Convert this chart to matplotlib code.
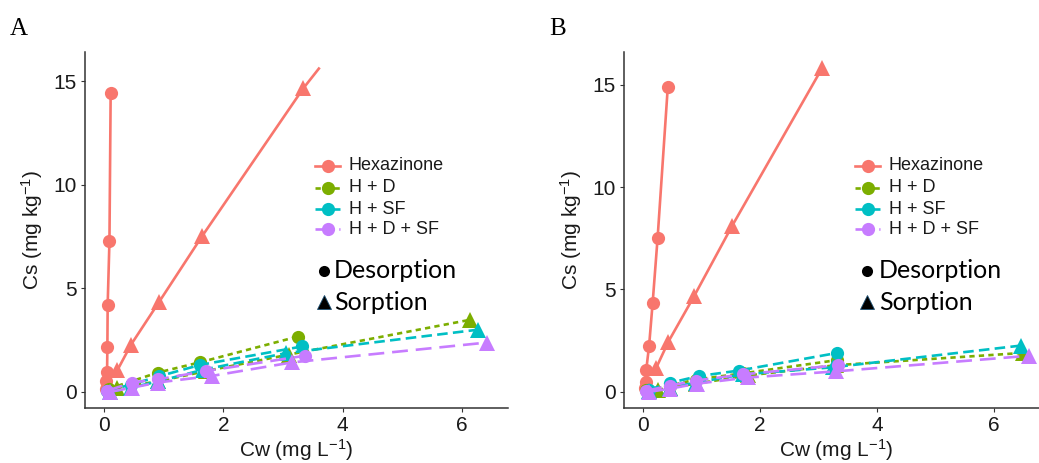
import matplotlib
matplotlib.use("Agg")
import matplotlib.pyplot as plt
from matplotlib.lines import Line2D

plt.rcParams['font.family'] = ['Liberation Sans', 'DejaVu Sans']
plt.rcParams['mathtext.default'] = 'regular'

# -------------------------
# Data
# -------------------------
series_names = ["Hexazinone", "H + D", "H + SF", "H + D + SF"]
series_colors = ["#F8766D", "#7CAE00", "#00BFC4", "#C77CFF"]

# Panel A
a_hex_des_x = [0.03, 0.04, 0.05, 0.055, 0.06, 0.09, 0.11]
a_hex_des_y = [0.15, 0.5, 0.95, 2.15, 4.2, 7.3, 14.4]
a_hex_sor_x = [0.22, 0.45, 0.92, 1.64, 3.34, 3.6]
a_hex_sor_y = [1.03, 2.27, 4.33, 7.5, 14.65, 15.6]
a_hd_des_x = [0.08, 0.9, 1.6, 3.25]
a_hd_des_y = [0.15, 0.93, 1.42, 2.67]
a_hd_sor_x = [0.22, 0.9, 1.7, 3.1, 6.14]
a_hd_sor_y = [0.2, 0.5, 1.0, 1.8, 3.48]
a_hsf_des_x = [0.05, 0.45, 0.92, 1.61, 3.32]
a_hsf_des_y = [0.05, 0.35, 0.75, 1.3, 2.19]
a_hsf_sor_x = [0.1, 0.45, 0.9, 1.65, 3.05, 6.27]
a_hsf_sor_y = [0.0, 0.2, 0.5, 1.06, 1.87, 3.0]
a_hdsf_des_x = [0.05, 0.47, 0.9, 1.7, 3.36]
a_hdsf_des_y = [0.05, 0.45, 0.6, 1.0, 1.74]
a_hdsf_sor_x = [0.1, 0.47, 0.9, 1.81, 3.15, 6.42]
a_hdsf_sor_y = [0.0, 0.2, 0.45, 0.77, 1.42, 2.38]

# Panel B
b_hex_des_x = [0.03, 0.04, 0.05, 0.10, 0.16, 0.245, 0.42]
b_hex_des_y = [0.2, 0.5, 1.05, 2.26, 4.33, 7.5, 14.9]
b_hex_sor_x = [0.22, 0.43, 0.87, 1.52, 3.06]
b_hex_sor_y = [1.16, 2.45, 4.67, 8.1, 15.8]
b_hd_des_x = [0.05, 0.45, 0.9, 1.7, 3.32]
b_hd_des_y = [0.1, 0.3, 0.6, 0.9, 1.55]
b_hd_sor_x = [0.25, 0.45, 0.9, 1.8, 3.3, 6.5]
b_hd_sor_y = [0.1, 0.2, 0.4, 0.8, 1.3, 1.9]
b_hsf_des_x = [0.1, 0.46, 0.95, 1.64, 3.32]
b_hsf_des_y = [0.1, 0.44, 0.77, 1.04, 1.9]
b_hsf_sor_x = [0.1, 0.45, 0.9, 1.7, 3.25, 6.47]
b_hsf_sor_y = [0.05, 0.2, 0.45, 0.85, 1.2, 2.26]
b_hdsf_des_x = [0.05, 0.45, 0.9, 1.7, 3.33]
b_hdsf_des_y = [0.05, 0.3, 0.55, 0.85, 1.3]
b_hdsf_sor_x = [0.1, 0.45, 0.92, 1.8, 3.3, 6.6]
b_hdsf_sor_y = [0.0, 0.15, 0.4, 0.7, 1.0, 1.76]

x_ticks = [0, 2, 4, 6]
y_ticks = [0, 5, 10, 15]

# -------------------------
# Styles
# -------------------------
dashes = ['-', (0, (2, 1.6)), (0, (4, 2)), (0, (6, 3))]
LW = 1.9
CIRCLE_MS = 9.5
TRI_MS = 11

W, H = 1039, 463
fig = plt.figure(figsize=(W / 100, H / 100), dpi=100)


def px_box(left, top, right, bottom):
    return [left / W, 1 - bottom / H, (right - left) / W, (bottom - top) / H]


def draw_panel(ax, groups, xlim, ylim):
    for i, (dx, dy, sx, sy) in enumerate(groups):
        c = series_colors[i]
        # the hexazinone sorption line of panel A runs past its last marker
        marks = list(range(5)) if len(sx) == 6 and i == 0 else None
        ax.plot(sx, sy, color=c, linestyle=dashes[i], linewidth=LW,
                marker='^', markersize=TRI_MS, markeredgewidth=0,
                markevery=marks)
        ax.plot(dx, dy, color=c, linestyle=dashes[i], linewidth=LW,
                marker='o', markersize=CIRCLE_MS, markeredgewidth=0)
    ax.set_xlim(*xlim)
    ax.set_ylim(*ylim)
    ax.set_xticks(x_ticks)
    ax.set_yticks(y_ticks)
    for s in ['top', 'right']:
        ax.spines[s].set_visible(False)
    for s in ['left', 'bottom']:
        ax.spines[s].set_color('#333333')
        ax.spines[s].set_linewidth(1.1)
    ax.tick_params(colors='#333333', labelcolor='#1a1a1a', labelsize=15,
                   length=3, width=0.8, pad=3)
    ax.set_xlabel('Cw (mg L$^{-1}$)', fontsize=15, color='#1a1a1a', labelpad=1)
    ax.set_ylabel('Cs (mg kg$^{-1}$)', fontsize=15, color='#1a1a1a', labelpad=6)


def draw_legend(key_left, text_left, shape_x, shape_text_x):
    rows = [166, 188, 209, 229]
    for i, name in enumerate(series_names):
        yf = 1 - rows[i] / H
        fig.add_artist(Line2D([key_left / W, (key_left + 25) / W], [yf, yf],
                              color=series_colors[i], linestyle=dashes[i],
                              linewidth=LW, transform=fig.transFigure))
        fig.add_artist(Line2D([(key_left + 12.5) / W], [yf], marker='o',
                              markersize=CIRCLE_MS, markeredgewidth=0,
                              color=series_colors[i], transform=fig.transFigure))
        fig.text(text_left / W, yf, name, fontsize=13, va='center', ha='left',
                 color='#1a1a1a')
    for y, mk, ms, label in [(271, 'o', 8, 'Desorption'), (302, '^', 10, 'Sorption')]:
        yf = 1 - y / H
        fig.add_artist(Line2D([shape_x / W], [yf], marker=mk, markersize=ms,
                              color='black', markeredgecolor='#1b4f72',
                              markeredgewidth=0.6 if mk == '^' else 0,
                              transform=fig.transFigure))
        fig.text(shape_text_x / W, yf, label, fontsize=18, family=['Lato', 'DejaVu Sans'],
                 va='center', ha='left', color='black')


ax_a = fig.add_axes(px_box(85, 52, 508, 408))
draw_panel(ax_a, [
    (a_hex_des_x, a_hex_des_y, a_hex_sor_x, a_hex_sor_y),
    (a_hd_des_x, a_hd_des_y, a_hd_sor_x, a_hd_sor_y),
    (a_hsf_des_x, a_hsf_des_y, a_hsf_sor_x, a_hsf_sor_y),
    (a_hdsf_des_x, a_hdsf_des_y, a_hdsf_sor_x, a_hdsf_sor_y),
], (-0.32, 6.77), (-0.78, 16.4))

ax_b = fig.add_axes(px_box(624, 52, 1048, 408))
draw_panel(ax_b, [
    (b_hex_des_x, b_hex_des_y, b_hex_sor_x, b_hex_sor_y),
    (b_hd_des_x, b_hd_des_y, b_hd_sor_x, b_hd_sor_y),
    (b_hsf_des_x, b_hsf_des_y, b_hsf_sor_x, b_hsf_sor_y),
    (b_hdsf_des_x, b_hdsf_des_y, b_hdsf_sor_x, b_hdsf_sor_y),
], (-0.33, 6.93), (-0.79, 16.6))

draw_legend(315, 349, 324, 334)
draw_legend(855, 889, 867, 879)

fig.text(10 / W, 1 - 29 / H, 'A', fontsize=18, family='Liberation Serif', va='center')
fig.text(549 / W, 1 - 29 / H, 'B', fontsize=18, family='Liberation Serif', va='center')

fig.savefig('out.png', dpi=100)
